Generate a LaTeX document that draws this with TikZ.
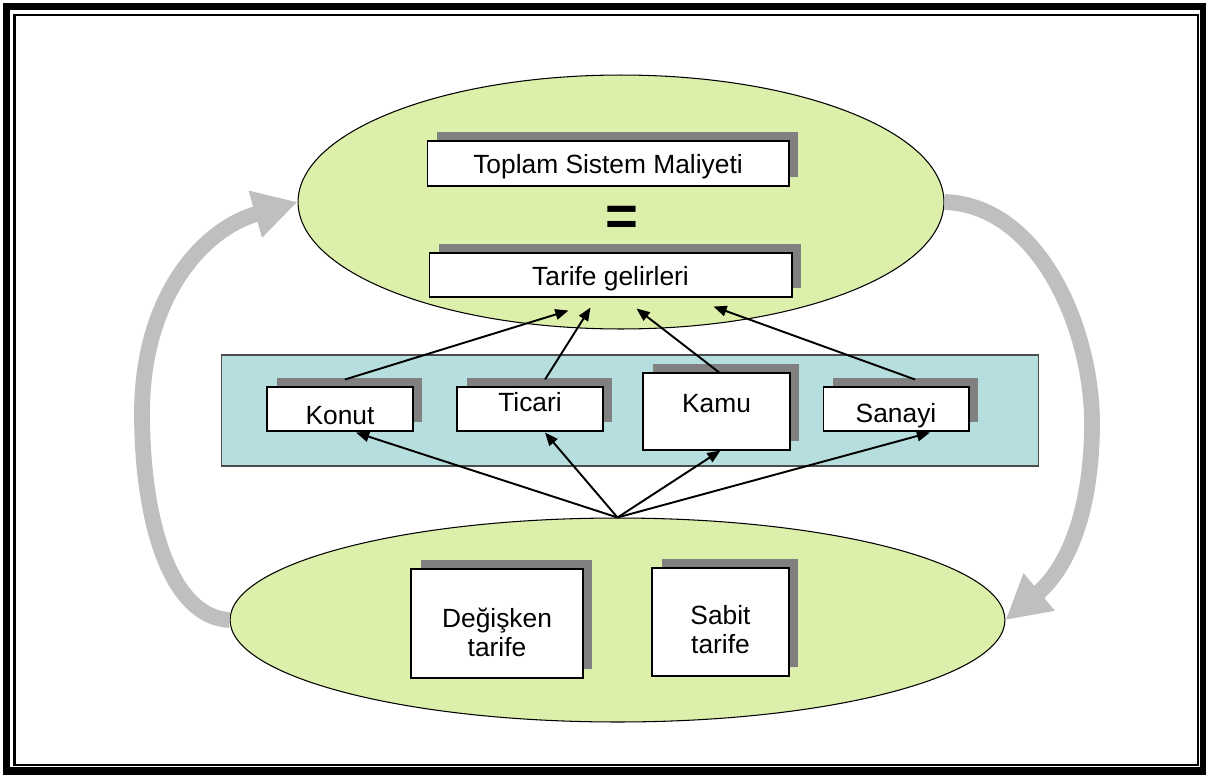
\documentclass[tikz,border=0pt]{standalone}
\usepackage{fontspec}
\setmainfont{Liberation Sans}
\usetikzlibrary{shapes.geometric, arrows.meta, calc, shadows}
\definecolor{oval1}{RGB}{221, 240, 171}
\definecolor{panel1}{RGB}{183, 222, 222}
\definecolor{loop1}{RGB}{191, 191, 191}
\tikzset{
  card/.style={draw, fill=white, line width=0.6pt, inner sep=0pt, align=center, font=\fontsize{15}{17}\selectfont,
    drop shadow={shadow xshift=0.19cm, shadow yshift=0.19cm, fill=gray, opacity=1}},
  oval/.style={ellipse, draw, fill=oval1, line width=0.6pt},
  feed/.style={-{Triangle[length=7.5pt, width=6pt]}, line width=1.1pt},
  loopback/.style={-{Triangle[length=25pt, width=26pt]}, line width=9pt, draw=loop1}
}

\begin{document}
\begin{tikzpicture}[x=0.02cm, y=-0.02cm]
  \useasboundingbox (0,0) rectangle (1206,774);
  \draw[line width=4pt] (6.5,6.5) rectangle (1203.5,771);
  \draw[line width=1.2pt] (14.5,15) rectangle (1198,765);

  \node[oval, minimum width=12.92cm, minimum height=5.08cm] (cost) at (621,202) {};
  \node[oval, minimum width=15.5cm, minimum height=4.08cm] (tariff) at (617.5,620) {};
  \node[draw=black!70, fill=panel1, line width=0.6pt, minimum width=16.36cm, minimum height=2.22cm] (panel) at (630,410.5) {};

  \node[card, minimum width=7.24cm, minimum height=0.9cm, text height=11.9pt, text depth=0pt] (total) at (608,163.5) {Toplam Sistem Maliyeti};
  \node[font=\fontsize{32}{32}\selectfont\bfseries] (eq) at (622,221) {=};
  \node[card, minimum width=7.26cm, minimum height=0.88cm, text height=12.5pt, text depth=0pt] (revenue) at (610.5,275) {Tarife gelirleri};

  \node[card, minimum width=2.92cm, minimum height=0.88cm, text height=18.1pt, text depth=0pt] (konut) at (340,409) {Konut};
  \node[card, minimum width=2.92cm, minimum height=0.88cm, text height=3.4pt, text depth=0pt] (ticari) at (530,409) {Ticari};
  \node[card, minimum width=2.94cm, minimum height=1.54cm, text height=0.6pt, text depth=0pt] (kamu) at (716.5,411.5) {Kamu};
  \node[card, minimum width=2.92cm, minimum height=0.88cm, text height=15.9pt, text depth=0pt] (sanayi) at (896,409) {Sanayi};

  \node[card, minimum width=3.44cm, minimum height=2.18cm, text height=38pt, text depth=0pt] (variable) at (497,623.5) {Değişken\\tarife};
  \node[card, minimum width=2.74cm, minimum height=2.16cm, text height=36.3pt, text depth=0pt] (fixed) at (720.5,622) {Sabit\\tarife};

  \draw[feed] ($(konut.north)+(5,-7)$) -- ($(revenue.south)+(-42,13)$);
  \draw[feed] ($(ticari.north)+(15,-7)$) -- ($(revenue.south)+(-20,10)$);
  \draw[feed] ($(kamu.north)+(4,1)$) -- ($(revenue.south)+(26,11)$);
  \draw[feed] ($(sanayi.north)+(19,-7)$) -- ($(revenue.south)+(103,9)$);

  \draw[feed] (tariff.north) -- ($(konut.south)+(16,1)$);
  \draw[feed] (tariff.north) -- ($(ticari.south)+(15,1)$);
  \draw[feed] (tariff.north) -- ($(kamu.south)+(4,0)$);
  \draw[feed] (tariff.north) -- ($(sanayi.south)+(34,1)$);

  \draw[loopback] (tariff.west) .. controls (170,617) and (142,520) .. (142,413)
    .. controls (142,300) and (200,230) .. (cost.west);
  \draw[loopback] (cost.east) .. controls (1040,205) and (1092,330) .. (1092,423)
    .. controls (1092,510) and (1068,568) .. (tariff.east);
\end{tikzpicture}
\end{document}
